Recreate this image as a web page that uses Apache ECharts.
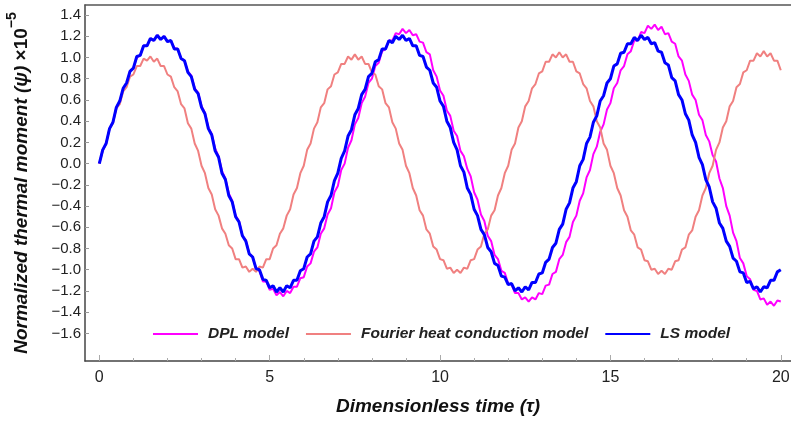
<!DOCTYPE html>
<html><head><meta charset="utf-8">
<script src="https://cdn.jsdelivr.net/npm/echarts@6/dist/echarts.min.js"></script>
<style>html,body{margin:0;padding:0;background:#fff}#c{width:791px;height:421px}</style>
</head><body><div id="c"></div>
<script>
// Dimensionless time samples
const tau = [0,0.1,0.2,0.3,0.4,0.5,0.6,0.7,0.8,0.9,1,1.1,1.2,1.3,1.4,1.5,1.6,1.7,1.8,1.9,
2,2.1,2.2,2.3,2.4,2.5,2.6,2.7,2.8,2.9,3,3.1,3.2,3.3,3.4,3.5,3.6,3.7,3.8,3.9,
4,4.1,4.2,4.3,4.4,4.5,4.6,4.7,4.8,4.9,5,5.1,5.2,5.3,5.4,5.5,5.6,5.7,5.8,5.9,
6,6.1,6.2,6.3,6.4,6.5,6.6,6.7,6.8,6.9,7,7.1,7.2,7.3,7.4,7.5,7.6,7.7,7.8,7.9,
8,8.1,8.2,8.3,8.4,8.5,8.6,8.7,8.8,8.9,9,9.1,9.2,9.3,9.4,9.5,9.6,9.7,9.8,9.9,
10,10.1,10.2,10.3,10.4,10.5,10.6,10.7,10.8,10.9,11,11.1,11.2,11.3,11.4,11.5,11.6,11.7,11.8,11.9,
12,12.1,12.2,12.3,12.4,12.5,12.6,12.7,12.8,12.9,13,13.1,13.2,13.3,13.4,13.5,13.6,13.7,13.8,13.9,
14,14.1,14.2,14.3,14.4,14.5,14.6,14.7,14.8,14.9,15,15.1,15.2,15.3,15.4,15.5,15.6,15.7,15.8,15.9,
16,16.1,16.2,16.3,16.4,16.5,16.6,16.7,16.8,16.9,17,17.1,17.2,17.3,17.4,17.5,17.6,17.7,17.8,17.9,
18,18.1,18.2,18.3,18.4,18.5,18.6,18.7,18.8,18.9,19,19.1,19.2,19.3,19.4,19.5,19.6,19.7,19.8,19.9,20];

// DPL model (magenta)
const dpl = [0,0.13,0.19,0.33,0.39,0.53,0.58,0.71,0.75,0.87,0.90,
1.00,1.02,1.11,1.11,1.18,1.16,1.21,1.17,1.20,1.15,
1.16,1.09,1.08,0.99,0.97,0.87,0.83,0.71,0.67,0.54,
0.48,0.34,0.28,0.14,0.07,-0.07,-0.14,-0.28,-0.35,-0.49,
-0.54,-0.68,-0.72,-0.85,-0.88,-0.99,-1.01,-1.11,-1.11,-1.19,
-1.18,-1.24,-1.21,-1.25,-1.20,-1.22,-1.16,-1.16,-1.08,-1.07,
-0.97,-0.94,-0.83,-0.79,-0.66,-0.61,-0.48,-0.42,-0.27,-0.21,-0.06,
0.00,0.15,0.22,0.37,0.43,0.57,0.63,0.76,0.80,
0.92,0.95,1.06,1.08,1.16,1.16,1.23,1.22,1.27,1.23,
1.26,1.21,1.22,1.15,1.14,1.05,1.03,
0.88,0.82,0.69,0.64,0.50,0.45,0.31,0.26,0.12,0.07,
-0.05,-0.12,-0.27,-0.34,-0.48,-0.54,-0.68,-0.73,-0.86,-0.90,-1.01,-1.03,-1.13,
-1.14,-1.22,-1.22,-1.28,-1.26,-1.30,-1.26,-1.28,-1.22,-1.23,
-1.15,-1.14,-1.04,-1.02,-0.90,-0.86,-0.74,-0.69,-0.55,-0.49,-0.35,-0.28,-0.13,-0.06,
0.09,0.16,0.30,0.37,0.51,0.57,0.71,0.76,0.88,0.92,1.03,
1.06,1.16,1.16,1.24,1.23,1.30,1.27,1.31,1.26,1.29,1.22,1.23,1.15,1.13,
1.01,0.97,0.84,0.78,0.65,0.60,0.46,0.41,0.27,0.21,0.08,0.02,
-0.14,-0.23,-0.40,-0.49,-0.65,-0.73,-0.89,-0.94,-1.06,-1.09,-1.19,-1.20,-1.28,-1.27,-1.33,-1.30,-1.34,-1.29,-1.30];

// Fourier heat conduction model (salmon)
const fourier = [0,0.12,0.19,0.33,0.38,0.52,0.56,0.68,0.72,0.82,0.84,
0.92,0.92,0.99,0.97,1.01,0.96,0.99,0.92,0.92,0.84,
0.82,0.72,0.68,0.56,0.52,0.38,0.33,0.19,0.12,-0.02,
-0.09,-0.23,-0.29,-0.43,-0.49,-0.61,-0.66,-0.77,-0.80,-0.90,
-0.90,-0.98,-0.97,-1.02,-0.99,-1.02,-0.97,-0.98,-0.90,-0.90,
-0.80,-0.77,-0.66,-0.61,-0.49,-0.43,-0.29,-0.23,-0.09,-0.02,
0.13,0.19,0.33,0.39,0.53,0.57,0.70,0.73,0.84,0.86,
0.94,0.94,1.01,0.98,1.03,0.98,1.01,0.94,0.94,0.86,
0.84,0.73,0.70,0.57,0.53,0.39,0.33,0.19,0.13,-0.02,
-0.09,-0.23,-0.30,-0.44,-0.49,-0.62,-0.66,-0.78,-0.81,-0.90,
-0.91,-0.99,-0.98,-1.03,-1.00,-1.03,-0.98,-0.99,-0.91,-0.90,
-0.81,-0.78,-0.66,-0.62,-0.49,-0.44,-0.30,-0.23,-0.09,-0.02,
0.13,0.19,0.34,0.40,0.54,0.59,0.71,0.75,0.85,0.87,
0.96,0.96,1.03,1.00,1.05,1.00,1.03,0.96,0.96,0.87,
0.85,0.75,0.71,0.59,0.54,0.40,0.34,0.19,0.13,-0.02,
-0.09,-0.23,-0.30,-0.44,-0.50,-0.63,-0.67,-0.79,-0.81,-0.91,
-0.92,-1.00,-0.99,-1.04,-1.01,-1.04,-0.99,-1.00,-0.92,-0.91,
-0.81,-0.79,-0.67,-0.63,-0.50,-0.44,-0.30,-0.23,-0.09,-0.02,
0.13,0.20,0.34,0.40,0.54,0.59,0.72,0.75,0.86,0.88,
0.97,0.97,1.04,1.01,1.06,1.01,1.04,0.97,0.97,0.88];

// LS model (blue)
const ls = [0,0.13,0.19,0.33,0.39,0.53,0.59,0.71,0.76,0.87,0.90,
1.01,1.02,1.11,1.11,1.18,1.16,1.21,1.17,1.20,1.15,
1.16,1.08,1.08,0.99,0.97,0.86,0.82,0.70,0.66,0.53,
0.47,0.33,0.27,0.12,0.06,-0.09,-0.15,-0.30,-0.36,-0.50,
-0.55,-0.68,-0.73,-0.85,-0.88,-0.99,-1.00,-1.09,-1.10,-1.17,
-1.15,-1.21,-1.17,-1.21,-1.15,-1.17,-1.10,-1.10,-1.01,-0.99,
-0.88,-0.85,-0.73,-0.69,-0.56,-0.50,-0.36,-0.30,-0.16,-0.09,
0.05,0.12,0.26,0.32,0.46,0.52,0.65,0.70,0.82,0.85,
0.96,0.98,1.08,1.08,1.16,1.14,1.20,1.17,1.21,1.16,
1.18,1.11,1.11,1.02,1.01,0.91,0.88,0.76,0.72,0.59,
0.54,0.40,0.34,0.20,0.13,-0.02,-0.08,-0.23,-0.29,-0.43,
-0.49,-0.62,-0.67,-0.79,-0.83,-0.94,-0.96,-1.06,-1.07,-1.14,
-1.13,-1.20,-1.17,-1.21,-1.16,-1.19,-1.12,-1.12,-1.04,-1.03,
-0.93,-0.90,-0.79,-0.75,-0.62,-0.57,-0.43,-0.37,-0.23,-0.17,
-0.02,0.04,0.19,0.25,0.39,0.45,0.59,0.64,0.76,0.80,
0.92,0.94,1.04,1.05,1.13,1.13,1.19,1.16,1.21,1.17,
1.19,1.13,1.14,1.06,1.05,0.95,0.93,0.81,0.78,0.65,
0.60,0.47,0.41,0.27,0.20,0.06,-0.01,-0.15,-0.22,-0.36,
-0.42,-0.56,-0.61,-0.73,-0.78,-0.89,-0.92,-1.02,-1.03,-1.12,
-1.11,-1.18,-1.16,-1.21,-1.16,-1.17,-1.10,-1.10,-1.02,-1.00];

const xMajorTicks = [0, 5, 10, 15, 20];
const xMinorTicks = [0,1,2,3,4,5,6,7,8,9,10,11,12,13,14,15,16,17,18,19,20];
const yTicks = [-1.6,-1.4,-1.2,-1.0,-0.8,-0.6,-0.4,-0.2,0,0.2,0.4,0.6,0.8,1.0,1.2,1.4];
const seriesNames = ['DPL model', 'Fourier heat conduction model', 'LS model'];

const FONT = '"Liberation Sans", Arial, Helvetica, sans-serif';
const XMIN = -0.42, XMAX = 20.3, YMIN = -1.86, YMAX = 1.495;
function pairs(ys) { return tau.map((t, i) => [t, ys[i]]); }

const chart = echarts.init(document.getElementById('c'), null, { renderer: 'canvas' });
const gridPos = { left: 85, right: 0, top: 5, bottom: 60, containLabel: false, outerBoundsMode: 'none' };
const nameStyle = { fontSize: 19, fontWeight: 'bold', fontStyle: 'italic', color: '#111', fontFamily: FONT };

chart.setOption({
  animation: false,
  backgroundColor: '#fff',
  grid: [Object.assign({}, gridPos), Object.assign({}, gridPos)],
  xAxis: [
    {
      type: 'value', gridIndex: 0, position: 'bottom', min: XMIN, max: XMAX,
      axisLine: { show: true, onZero: false, lineStyle: { color: '#444', width: 1.5 } },
      axisTick: { show: true, inside: true, length: 3, customValues: xMinorTicks, lineStyle: { color: '#aaa', width: 1 } },
      axisLabel: { customValues: xMajorTicks, fontSize: 16, color: '#222', margin: 9, fontFamily: FONT },
      splitLine: { show: false },
      name: 'Dimensionless time (τ)', nameLocation: 'middle', nameGap: 36, nameTextStyle: nameStyle
    },
    {
      type: 'value', gridIndex: 0, position: 'top', min: XMIN, max: XMAX,
      axisLine: { show: true, onZero: false, lineStyle: { color: '#555', width: 1.5 } },
      axisTick: { show: false }, axisLabel: { show: false }, splitLine: { show: false }
    },
    {
      type: 'value', gridIndex: 1, position: 'bottom', min: XMIN, max: XMAX,
      axisLine: { show: false, onZero: false },
      axisTick: { show: true, inside: true, length: 6, customValues: xMajorTicks, lineStyle: { color: '#aaa', width: 1 } },
      axisLabel: { show: false }, splitLine: { show: false }
    }
  ],
  yAxis: [
    {
      type: 'value', gridIndex: 0, min: YMIN, max: YMAX,
      axisLine: { show: true, onZero: false, lineStyle: { color: '#444', width: 1.5 } },
      axisTick: { show: true, inside: true, length: 4, customValues: yTicks, lineStyle: { color: '#999', width: 1 } },
      axisLabel: {
        customValues: yTicks, fontSize: 15, color: '#222', margin: 4, fontFamily: FONT,
        formatter: v => (v < -1e-9 ? '\u2212' : '') + Math.abs(v).toFixed(1)
      },
      splitLine: { show: false },
      name: '{a|Normalized thermal moment (ψ) }{b|×10}{c|−5}',
      nameLocation: 'middle', nameRotate: 90, nameGap: 46,
      nameTextStyle: Object.assign({}, nameStyle, {
        rich: {
          a: Object.assign({}, nameStyle, { lineHeight: 34 }),
          b: Object.assign({}, nameStyle, { fontStyle: 'normal', lineHeight: 34 }),
          c: Object.assign({}, nameStyle, { fontSize: 14, fontStyle: 'normal', verticalAlign: 'top', lineHeight: 16 })
        }
      })
    },
    { type: 'value', gridIndex: 1, min: YMIN, max: YMAX, show: false }
  ],
  legend: {
    left: 152, top: 326, padding: 0, itemWidth: 45, itemHeight: 14, itemGap: 16,
    data: seriesNames,
    itemStyle: { opacity: 0 },
    textStyle: { fontSize: 15.5, fontWeight: 'bold', fontStyle: 'italic', color: '#222', fontFamily: FONT, padding: [0, 0, 0, 5] }
  },
  series: [
    { name: seriesNames[0], type: 'line', xAxisIndex: 0, yAxisIndex: 0, data: pairs(dpl), symbol: 'none',
      lineStyle: { color: '#ff00ff', width: 2 }, itemStyle: { color: '#ff00ff' } },
    { name: seriesNames[1], type: 'line', xAxisIndex: 0, yAxisIndex: 0, data: pairs(fourier), symbol: 'none',
      lineStyle: { color: '#f08080', width: 2 }, itemStyle: { color: '#f08080' } },
    { name: seriesNames[2], type: 'line', xAxisIndex: 0, yAxisIndex: 0, data: pairs(ls), symbol: 'none',
      lineStyle: { color: '#0000ff', width: 3 }, itemStyle: { color: '#0000ff' } }
  ]
});
</script>
</body></html>
